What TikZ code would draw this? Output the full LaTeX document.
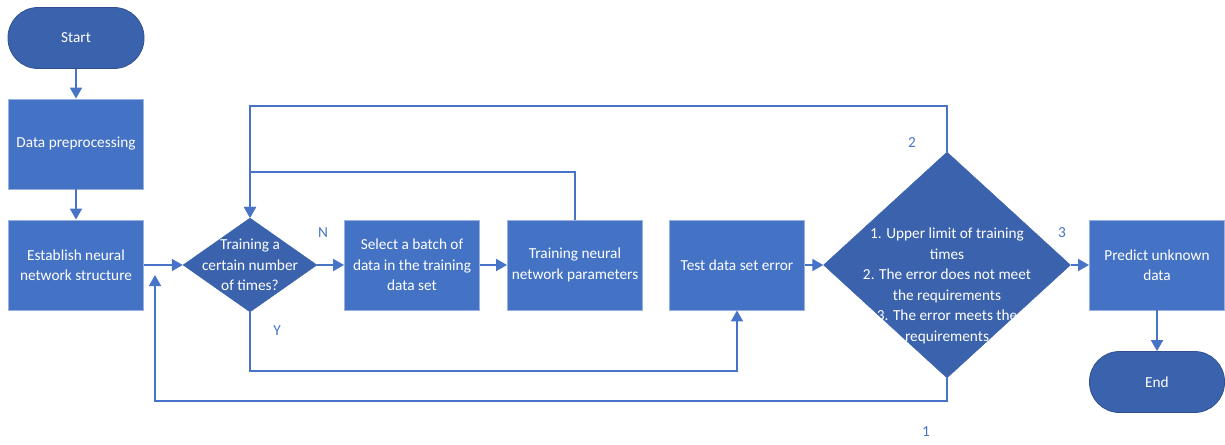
\documentclass[tikz,border=0pt]{standalone}
\usepackage{fontspec}
\setmainfont{Carlito}
\usetikzlibrary{shapes.geometric,arrows.meta,positioning,calc}
\definecolor{boxBlue}{RGB}{68,114,196}
\definecolor{darkBlue}{RGB}{59,98,172}
\definecolor{edgeBlue}{RGB}{47,82,143}
\definecolor{lineBlue}{RGB}{72,116,200}

\begin{document}
\begin{tikzpicture}[x=1pt,y=-1pt,
  every node/.style={font=\fontsize{15.3}{20.5}\selectfont},
  procbox/.style={rectangle,fill=boxBlue,draw=boxBlue!55!white,line width=0.8pt,text=white,
    minimum width=135pt,minimum height=90pt,align=center,inner sep=2pt},
  termbox/.style={rectangle,rounded corners=30pt,fill=darkBlue,draw=edgeBlue,line width=0.8pt,
    text=white,minimum width=136pt,minimum height=61pt},
  decbox/.style={diamond,fill=darkBlue,draw=darkBlue,inner sep=0pt},
  dectext/.style={text=white,align=center},
  flow/.style={lineBlue,line width=1.8pt,-{Triangle[width=12pt,length=11pt]}},
  tag/.style={text=lineBlue}]
  \useasboundingbox (0,0) rectangle (1225,444);

  \node[termbox] (start) at (76,38) {Start};
  \node[procbox] (prep) at (76,144) {Data preprocessing};
  \node[procbox] (struct) at (76,265) {Establish neural\\network structure};
  \node[decbox,minimum width=134pt,minimum height=94pt] (dec1) at (250,265) {};
  \node[dectext] (dec1txt) at (dec1) {Training a\\certain number\\of times?};
  \node[procbox] (batch) at (412,265) {Select a batch of\\data in the training\\data set};
  \node[procbox] (train) at (575,265) {Training neural\\network parameters};
  \node[procbox] (test) at (737,265) {Test data set error};
  \node[decbox,minimum width=247pt,minimum height=226pt] (dec2) at (947,265) {};
  \node[dectext] (dec2txt) at (947,286) {1. Upper limit of training\\times\\2. The error does not meet\\the requirements\\3. The error meets the\\requirements};
  \node[procbox] (pred) at (1157,265) {Predict unknown\\data};
  \node[termbox,minimum width=135pt] (end) at (1157,382) {End};

  \draw[flow] (start) -- (prep);
  \draw[flow] (prep) -- (struct);
  \draw[flow] (struct) -- (dec1);
  \draw[flow] (dec1) -- (batch);
  \draw[flow] (batch) -- (train);
  \draw[flow] (test) -- (dec2);
  \draw[flow] (dec2) -- (pred);
  \draw[flow] (pred) -- (end);
  \draw[flow] (train.north) -- ++(0,-48) -| (dec1.north);
  \draw[flow] (dec2.north) -- ++(0,-46) -| (dec1.north);
  \draw[flow] (dec1.south) -- ++(0,59) -| (test.south);
  \coordinate (back) at (155,275);
  \draw[flow] (dec2.south) -- ++(0,23) -| (back);

  \node[tag] (lblN) at (323,233) {N};
  \node[tag] (lblY) at (277,331) {Y};
  \node[tag] (lbl1) at (926,432) {1};
  \node[tag] (lbl2) at (912,143) {2};
  \node[tag] (lbl3) at (1062,233) {3};
\end{tikzpicture}
\end{document}
